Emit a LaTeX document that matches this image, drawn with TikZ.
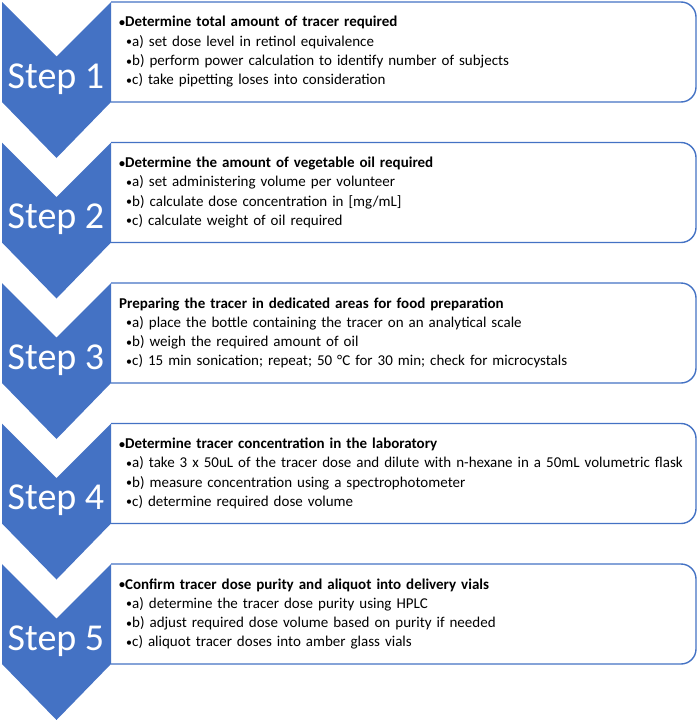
\documentclass[tikz,border=0pt]{standalone}
\usepackage{fontspec}
\setmainfont{Carlito}
\definecolor{stepblue}{HTML}{4472C4}
\newcommand{\itembullet}{\raisebox{0.5pt}{\scalebox{0.8}{\textbullet}}}
\tikzset{
  chevron/.style={fill=stepblue},
  listbox/.style={draw=stepblue, line width=1.4pt, fill=white, rounded corners=15pt},
  steplabel/.style={text=white, inner sep=0pt, font=\fontsize{38}{38}\selectfont},
  listtext/.style={inner sep=0pt, text width=575pt, align=left, font=\fontsize{15}{19.3}\selectfont}
}
% #1 top of the row, #2 step number, #3 heading, #4-#6 items
\def\chevronstep(#1)#2#3#4#5#6{%
  \draw[listbox] (111,#1) -- ++(585,0) -- ++(0,100) -- ++(-585,0);
  \fill[chevron] (2,#1) -- ++(54.5,54.5) -- ++(54.5,-54.5) -- ++(0,100) -- ++(-54.5,56) -- ++(-54.5,-56) -- cycle;
  \path (56,#1) ++(0,86) node[steplabel, anchor=base] (step#2) {Step #2};
  \path (119,#1) ++(0,25) node[listtext, anchor=base west] (list#2) {%
    \textbf{#3}\\
    \hspace*{7pt}\itembullet#4\\
    \hspace*{7pt}\itembullet#5\\
    \hspace*{7pt}\itembullet#6};
}

\begin{document}
\begin{tikzpicture}[x=1pt, y=-1pt]
	%%%%% START %%%%%
	\useasboundingbox (0,0) rectangle (700,720);
	
	\chevronstep(2){1}{\itembullet Determine total amount of tracer required}
		{a) set dose level in retinol equivalence}
		{b) perform power calculation to identify number of subjects}
		{c) take pipetting loses into consideration}
	
	\chevronstep(142.5){2}{\itembullet Determine the amount of vegetable oil required}
		{a) set administering volume per volunteer}
		{b) calculate dose concentration in [mg/mL]}
		{c) calculate weight of oil required}
	
	\chevronstep(283){3}{Preparing the tracer in dedicated areas for food preparation}
		{a) place the bottle containing the tracer on an analytical scale}
		{b) weigh the required amount of oil}
		{c) 15 min sonication; repeat; 50 °C for 30 min; check for microcystals}
	
	\chevronstep(423.5){4}{\itembullet Determine tracer concentration in the laboratory}
		{a) take 3 x 50uL of the tracer dose and dilute with n-hexane in a 50mL volumetric flask}
		{b) measure concentration using a spectrophotometer}
		{c) determine required dose volume}
	
	\chevronstep(564){5}{\itembullet Confirm tracer dose purity and aliquot into delivery vials}
		{a) determine the tracer dose purity using HPLC}
		{b) adjust required dose volume based on purity if needed}
		{c) aliquot tracer doses into amber glass vials}
	
	%%%%% END %%%%%
\end{tikzpicture}
\end{document}
